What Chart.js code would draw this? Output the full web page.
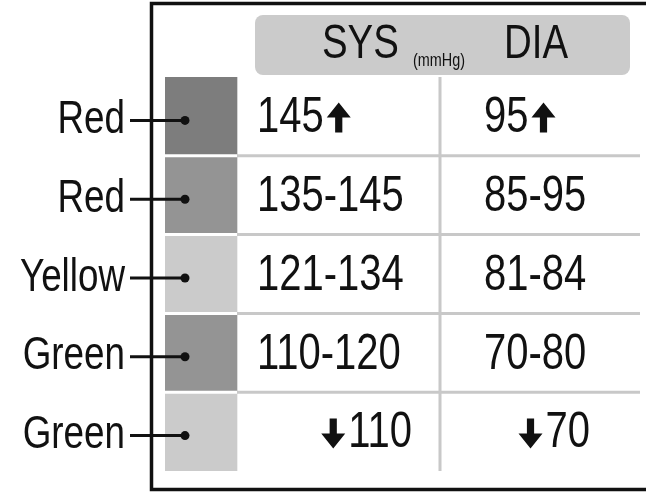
<!DOCTYPE html>
<html><head><meta charset="utf-8">
<script src="https://cdn.jsdelivr.net/npm/chart.js@4"></script>
<style>html,body{margin:0;padding:0;background:#fff}#c{display:block}</style>
</head><body>
<div style="width:646px;height:493px"><canvas id="c"></canvas></div>
<script>
const rowLabels = ['Red','Red','Yellow','Green','Green'];
const swatchColors = ['#7d7d7d','#949494','#cbcbcb','#949494','#cbcbcb'];
const sysValues = ['145▲','135-145','121-134','110-120','▼110'];
const diaValues = ['95▲','85-95','81-84','70-80','▼70'];
const headerSys = 'SYS', headerUnit = '(mmHg)', headerDia = 'DIA';

const COL = {swatch:[0,72], sys:[72,275], dia:[275,475]};
const FONT = "'Liberation Sans',Arial,sans-serif";
const SQ = 0.8; // horizontal condensing

function drawArrow(ctx, x, y, up, w, h){
  ctx.save(); ctx.fillStyle='#111'; ctx.beginPath();
  const s = up?1:-1, hh=h*0.5, sw=w*0.3;
  const tip = y - s*h/2, base = tip + s*hh, end = y + s*h/2;
  ctx.moveTo(x, tip); ctx.lineTo(x+w/2, base); ctx.lineTo(x+sw/2, base);
  ctx.lineTo(x+sw/2, end); ctx.lineTo(x-sw/2, end); ctx.lineTo(x-sw/2, base);
  ctx.lineTo(x-w/2, base); ctx.closePath(); ctx.fill(); ctx.restore();
}
function condText(ctx, t, x, y, size, align){
  ctx.save(); ctx.font = size+"px "+FONT; ctx.textBaseline='middle';
  const w = ctx.measureText(t).width*SQ;
  let x0 = align==='right' ? x-w : (align==='center'? x-w/2 : x);
  ctx.translate(x0, y); ctx.scale(SQ,1); ctx.textAlign='left'; ctx.fillStyle='#111';
  ctx.fillText(t, 0, 0); ctx.restore(); return w;
}
function textW(ctx,t,size){ ctx.save(); ctx.font=size+"px "+FONT; const w=ctx.measureText(t).width*SQ; ctx.restore(); return w; }
function drawCell(ctx, text, left, right, cy){
  const up = text.endsWith('▲'), down = text.startsWith('▼');
  const t = text.replace('▲','').replace('▼','');
  const aw = 24, gap = 3, sz = 50;
  if(down){
    const w = textW(ctx,t,sz);
    condText(ctx, t, right, cy, sz, 'right');
    drawArrow(ctx, right-w-gap-aw/2, cy, false, aw, 30);
  } else {
    const w = condText(ctx, t, left, cy, sz, 'left');
    if(up) drawArrow(ctx, left+w+gap+aw/2, cy-1, true, aw, 30);
  }
}

const deco = {
  id:'deco',
  beforeDatasetsDraw(chart){
    const {ctx} = chart;
    ctx.save(); ctx.fillStyle='#cbcbcb';
    ctx.beginPath(); ctx.roundRect(255,15,375,60,8); ctx.fill(); ctx.restore();
  },
  afterDatasetsDraw(chart){
    const {ctx, scales:{x,y}, chartArea:a} = chart;
    ctx.save();
    ctx.strokeStyle='#c8c8c8'; ctx.lineWidth=3;
    const xs = x.getPixelForValue(COL.sys[0]), xd = x.getPixelForValue(COL.dia[0]);
    ctx.beginPath(); ctx.moveTo(xd, a.top); ctx.lineTo(xd, a.bottom); ctx.stroke();
    for(let i=0;i<rowLabels.length-1;i++){
      const yb = (y.getPixelForValue(i)+y.getPixelForValue(i+1))/2;
      ctx.strokeStyle='#c8c8c8';
      ctx.beginPath(); ctx.moveTo(xs, yb); ctx.lineTo(a.right, yb); ctx.stroke();
      ctx.strokeStyle='#fff';
      ctx.beginPath(); ctx.moveTo(x.getPixelForValue(COL.swatch[0]), yb); ctx.lineTo(xs, yb); ctx.stroke();
    }
    condText(ctx, headerSys, 322, 45, 48, 'left');
    condText(ctx, headerUnit, 413, 61, 18, 'left');
    condText(ctx, headerDia, 504, 45, 48, 'left');
    rowLabels.forEach((lab,i)=>{
      const cy = y.getPixelForValue(i);
      drawCell(ctx, sysValues[i], xs+20, x.getPixelForValue(COL.sys[1])-28, cy+2);
      drawCell(ctx, diaValues[i], xd+44, x.getPixelForValue(COL.dia[1])-50, cy+2);
      condText(ctx, lab, 125, cy+4, 46, 'right');
      ctx.strokeStyle='#111'; ctx.fillStyle='#111'; ctx.lineWidth=3;
      ctx.beginPath(); ctx.moveTo(130, cy+4); ctx.lineTo(185, cy+4); ctx.stroke();
      ctx.beginPath(); ctx.arc(185, cy+4, 4.5, 0, Math.PI*2); ctx.fill();
    });
    ctx.strokeStyle='#111'; ctx.lineWidth=3.5;
    ctx.beginPath(); ctx.moveTo(646,3.5); ctx.lineTo(151.5,3.5); ctx.lineTo(151.5,489.5); ctx.lineTo(646,489.5); ctx.stroke();
    ctx.restore();
  }
};

new Chart(document.getElementById('c'), {
  type:'bar',
  data:{
    labels: rowLabels.map((l,i)=>l+i),
    datasets:[{
      data: rowLabels.map(()=>COL.swatch),
      backgroundColor: swatchColors,
      barPercentage:1, categoryPercentage:1, borderWidth:0
    }]
  },
  options:{
    indexAxis:'y', responsive:true, maintainAspectRatio:false, animation:false,
    layout:{padding:{left:165, right:6, top:77, bottom:22}},
    plugins:{legend:{display:false}, tooltip:{enabled:false}},
    scales:{
      x:{type:'linear', min:0, max:475, display:false},
      y:{display:false, offset:true}
    }
  },
  plugins:[deco]
});
</script>
</body></html>
